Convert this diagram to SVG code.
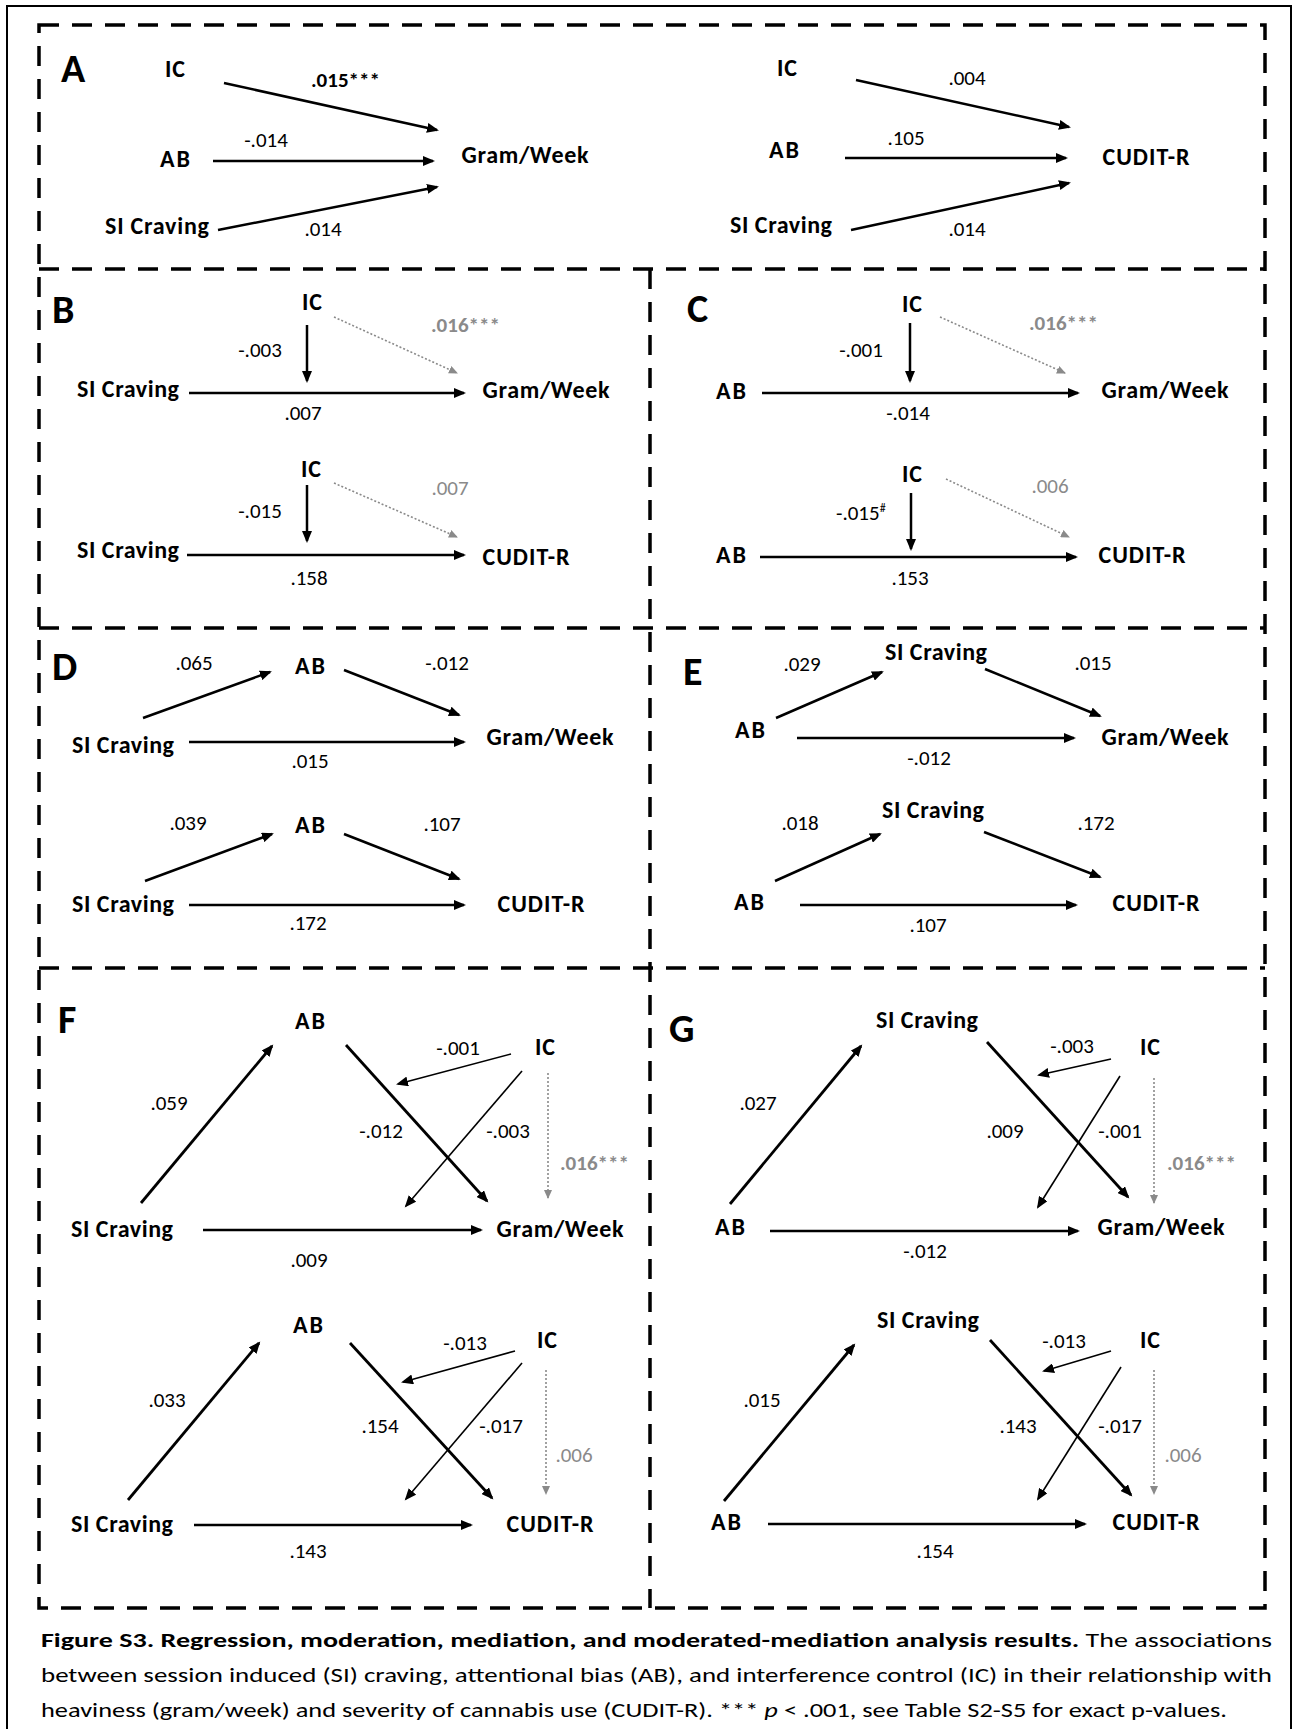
<svg xmlns="http://www.w3.org/2000/svg" width="1299" height="1729" viewBox="0 0 1299 1729">
<style>
text{font-family:Carlito,Lato,"Liberation Sans",sans-serif;fill:#000}
.lbl{font-weight:700;font-size:24px;text-anchor:middle}
.num{font-weight:400;font-size:21px;text-anchor:middle}
.numS{font-weight:400;font-size:21px;text-anchor:start}
.b{font-weight:700}
.g{fill:#8a8a8a}
.pl{font-weight:700;font-size:40px}
.cap{font-size:21px}
.ar{stroke:#000;stroke-width:2.5;fill:none;marker-end:url(#ah)}
.tk{stroke-width:2.8}
.tn{stroke-width:1.6}
.dt{stroke:#8a8a8a;stroke-width:1.6;stroke-dasharray:2 2;fill:none;marker-end:url(#ahg)}
.fr{stroke:#000;stroke-width:3.5;fill:none;stroke-dasharray:20 13}
</style>
<defs>
<marker id="ah" markerUnits="userSpaceOnUse" markerWidth="13" markerHeight="10" refX="10" refY="5" orient="auto"><path d="M0,0 L12,5 L0,10 z" fill="#000"/></marker>
<marker id="ahg" markerUnits="userSpaceOnUse" markerWidth="10" markerHeight="8" refX="8" refY="4" orient="auto"><path d="M0,0 L9,4 L0,8 z" fill="#8a8a8a"/></marker>
</defs>
<rect x="0" y="0" width="1299" height="1729" fill="#fff"/>
<rect x="7" y="6" width="1284" height="1740" fill="none" stroke="#000" stroke-width="2"/>
<g id="frames">
<rect class="fr" x="39" y="25" width="1226" height="1583"/>
<line class="fr" x1="39" y1="269" x2="1265" y2="269"/>
<line class="fr" x1="39" y1="628" x2="1265" y2="628"/>
<line class="fr" x1="39" y1="968" x2="1265" y2="968"/>
<line class="fr" x1="650" y1="269" x2="650" y2="1608"/>
</g>
<g id="panel-letters">
<text class="pl" x="61" y="82">A</text>
<text class="pl" x="52" y="323">B</text>
<text class="pl" x="687" y="322">C</text>
<text class="pl" x="52" y="680">D</text>
<text class="pl" x="683" y="685">E</text>
<text class="pl" x="58" y="1033">F</text>
<text class="pl" x="669" y="1042">G</text>
</g>
<g id="connectors">
<line class="ar" x1="224" y1="83" x2="437" y2="130"/>
<line class="ar" x1="213" y1="161" x2="433" y2="161"/>
<line class="ar" x1="218" y1="230" x2="437" y2="187"/>
<line class="ar" x1="856" y1="80" x2="1069" y2="127"/>
<line class="ar" x1="845" y1="158" x2="1066" y2="158"/>
<line class="ar" x1="851" y1="230" x2="1069" y2="183"/>
<line class="ar" x1="307" y1="325" x2="307" y2="381"/>
<line class="dt" x1="334" y1="317" x2="457" y2="373"/>
<line class="ar" x1="189" y1="393" x2="464" y2="393"/>
<line class="ar" x1="307" y1="485" x2="307" y2="541"/>
<line class="dt" x1="334" y1="483" x2="457" y2="537"/>
<line class="ar" x1="187" y1="555" x2="464" y2="555"/>
<line class="ar" x1="910" y1="323" x2="910" y2="381"/>
<line class="dt" x1="940" y1="317" x2="1065" y2="373"/>
<line class="ar" x1="762" y1="393" x2="1078" y2="393"/>
<line class="ar" x1="911" y1="493" x2="911" y2="549"/>
<line class="dt" x1="946" y1="479" x2="1069" y2="537"/>
<line class="ar" x1="760" y1="557" x2="1076" y2="557"/>
<line class="ar" x1="143" y1="718" x2="270" y2="672"/>
<line class="ar" x1="344" y1="670" x2="459" y2="715"/>
<line class="ar" x1="189" y1="742" x2="464" y2="742"/>
<line class="ar" x1="145" y1="881" x2="272" y2="834"/>
<line class="ar" x1="344" y1="834" x2="459" y2="879"/>
<line class="ar" x1="189" y1="905" x2="464" y2="905"/>
<line class="ar" x1="776" y1="718" x2="882" y2="672"/>
<line class="ar" x1="985" y1="669" x2="1100" y2="716"/>
<line class="ar" x1="797" y1="738" x2="1074" y2="738"/>
<line class="ar" x1="775" y1="881" x2="880" y2="834"/>
<line class="ar" x1="984" y1="832" x2="1100" y2="877"/>
<line class="ar" x1="800" y1="905" x2="1076" y2="905"/>
<line class="ar tk" x1="141" y1="1203" x2="272" y2="1046"/>
<line class="ar tk" x1="346" y1="1045" x2="487" y2="1201"/>
<line class="ar tn" x1="511" y1="1054" x2="398" y2="1084"/>
<line class="ar tn" x1="522" y1="1071" x2="406" y2="1206"/>
<line class="dt" x1="548" y1="1073" x2="548" y2="1198"/>
<line class="ar" x1="203" y1="1230" x2="481" y2="1230"/>
<line class="ar tk" x1="730" y1="1204" x2="861" y2="1046"/>
<line class="ar tk" x1="987" y1="1042" x2="1128" y2="1197"/>
<line class="ar tn" x1="1111" y1="1059" x2="1039" y2="1075"/>
<line class="ar tn" x1="1120" y1="1076" x2="1038" y2="1207"/>
<line class="dt" x1="1154" y1="1078" x2="1154" y2="1203"/>
<line class="ar" x1="770" y1="1231" x2="1078" y2="1231"/>
<line class="ar tk" x1="128" y1="1500" x2="259" y2="1343"/>
<line class="ar tk" x1="350" y1="1343" x2="492" y2="1498"/>
<line class="ar tn" x1="515" y1="1351" x2="403" y2="1382"/>
<line class="ar tn" x1="522" y1="1363" x2="406" y2="1499"/>
<line class="dt" x1="546" y1="1370" x2="546" y2="1494"/>
<line class="ar" x1="194" y1="1525" x2="471" y2="1525"/>
<line class="ar tk" x1="724" y1="1501" x2="854" y2="1345"/>
<line class="ar tk" x1="990" y1="1340" x2="1131" y2="1495"/>
<line class="ar tn" x1="1111" y1="1351" x2="1044" y2="1371"/>
<line class="ar tn" x1="1121" y1="1367" x2="1038" y2="1499"/>
<line class="dt" x1="1154" y1="1370" x2="1154" y2="1494"/>
<line class="ar" x1="768" y1="1524" x2="1085" y2="1524"/>
</g>
<g id="connector-labels">
<text class="numS b" x="311" y="87">.015***</text>
<text class="num" x="266" y="147">-.014</text>
<text class="num" x="323" y="236">.014</text>
<text class="num" x="967" y="85">.004</text>
<text class="num" x="906" y="145">.105</text>
<text class="num" x="967" y="236">.014</text>
<text class="num" x="260" y="357">-.003</text>
<text class="numS b g" x="431" y="332">.016***</text>
<text class="num" x="303" y="420">.007</text>
<text class="num" x="260" y="518">-.015</text>
<text class="num g" x="450" y="495">.007</text>
<text class="num" x="309" y="585">.158</text>
<text class="num" x="861" y="357">-.001</text>
<text class="numS b g" x="1029" y="330">.016***</text>
<text class="num" x="908" y="420">-.014</text>
<text class="numS" x="836" y="520">-.015<tspan font-size="12" dy="-8">#</tspan></text>
<text class="num g" x="1050" y="493">.006</text>
<text class="num" x="910" y="585">.153</text>
<text class="num" x="194" y="670">.065</text>
<text class="num" x="447" y="670">-.012</text>
<text class="num" x="310" y="768">.015</text>
<text class="num" x="188" y="830">.039</text>
<text class="num" x="442" y="831">.107</text>
<text class="num" x="308" y="930">.172</text>
<text class="num" x="802" y="671">.029</text>
<text class="num" x="1093" y="670">.015</text>
<text class="num" x="929" y="765">-.012</text>
<text class="num" x="800" y="830">.018</text>
<text class="num" x="1096" y="830">.172</text>
<text class="num" x="928" y="932">.107</text>
<text class="num" x="169" y="1110">.059</text>
<text class="num" x="458" y="1055">-.001</text>
<text class="num" x="381" y="1138">-.012</text>
<text class="num" x="508" y="1138">-.003</text>
<text class="numS b g" x="560" y="1170">.016***</text>
<text class="num" x="309" y="1267">.009</text>
<text class="num" x="758" y="1110">.027</text>
<text class="num" x="1072" y="1053">-.003</text>
<text class="num" x="1005" y="1138">.009</text>
<text class="num" x="1120" y="1138">-.001</text>
<text class="numS b g" x="1167" y="1170">.016***</text>
<text class="num" x="925" y="1258">-.012</text>
<text class="num" x="167" y="1407">.033</text>
<text class="num" x="465" y="1350">-.013</text>
<text class="num" x="380" y="1433">.154</text>
<text class="num" x="501" y="1433">-.017</text>
<text class="num g" x="574" y="1462">.006</text>
<text class="num" x="308" y="1558">.143</text>
<text class="num" x="762" y="1407">.015</text>
<text class="num" x="1064" y="1348">-.013</text>
<text class="num" x="1018" y="1433">.143</text>
<text class="num" x="1120" y="1433">-.017</text>
<text class="num g" x="1183" y="1462">.006</text>
<text class="num" x="935" y="1558">.154</text>
</g>
<g id="nodes">
<g id="A1-IC"><text class="lbl" x="175" y="77" textLength="20">IC</text></g>
<g id="A1-AB"><text class="lbl" x="175" y="167" textLength="30">AB</text></g>
<g id="A1-SI"><text class="lbl" x="157" y="234" textLength="104">SI Craving</text></g>
<g id="A1-GW"><text class="lbl" x="525" y="163" textLength="127">Gram/Week</text></g>
<g id="A2-IC"><text class="lbl" x="787" y="76" textLength="20">IC</text></g>
<g id="A2-AB"><text class="lbl" x="784" y="158" textLength="30">AB</text></g>
<g id="A2-SI"><text class="lbl" x="781" y="233" textLength="102">SI Craving</text></g>
<g id="A2-CU"><text class="lbl" x="1146" y="165" textLength="87">CUDIT-R</text></g>
<g id="B1-IC"><text class="lbl" x="312" y="310" textLength="20">IC</text></g>
<g id="B1-SI"><text class="lbl" x="128" y="397" textLength="102">SI Craving</text></g>
<g id="B1-GW"><text class="lbl" x="546" y="398" textLength="127">Gram/Week</text></g>
<g id="B2-IC"><text class="lbl" x="311" y="477" textLength="20">IC</text></g>
<g id="B2-SI"><text class="lbl" x="128" y="558" textLength="102">SI Craving</text></g>
<g id="B2-CU"><text class="lbl" x="526" y="565" textLength="87">CUDIT-R</text></g>
<g id="C1-IC"><text class="lbl" x="912" y="312" textLength="20">IC</text></g>
<g id="C1-AB"><text class="lbl" x="731" y="399" textLength="30">AB</text></g>
<g id="C1-GW"><text class="lbl" x="1165" y="398" textLength="127">Gram/Week</text></g>
<g id="C2-IC"><text class="lbl" x="912" y="482" textLength="20">IC</text></g>
<g id="C2-AB"><text class="lbl" x="731" y="563" textLength="30">AB</text></g>
<g id="C2-CU"><text class="lbl" x="1142" y="563" textLength="87">CUDIT-R</text></g>
<g id="D1-AB"><text class="lbl" x="310" y="674" textLength="30">AB</text></g>
<g id="D1-SI"><text class="lbl" x="123" y="753" textLength="102">SI Craving</text></g>
<g id="D1-GW"><text class="lbl" x="550" y="745" textLength="127">Gram/Week</text></g>
<g id="D2-AB"><text class="lbl" x="310" y="833" textLength="30">AB</text></g>
<g id="D2-SI"><text class="lbl" x="123" y="912" textLength="102">SI Craving</text></g>
<g id="D2-CU"><text class="lbl" x="541" y="912" textLength="87">CUDIT-R</text></g>
<g id="E1-SI"><text class="lbl" x="936" y="660" textLength="102">SI Craving</text></g>
<g id="E1-AB"><text class="lbl" x="750" y="738" textLength="30">AB</text></g>
<g id="E1-GW"><text class="lbl" x="1165" y="745" textLength="127">Gram/Week</text></g>
<g id="E2-SI"><text class="lbl" x="933" y="818" textLength="102">SI Craving</text></g>
<g id="E2-AB"><text class="lbl" x="749" y="910" textLength="30">AB</text></g>
<g id="E2-CU"><text class="lbl" x="1156" y="911" textLength="87">CUDIT-R</text></g>
<g id="F1-AB"><text class="lbl" x="310" y="1029" textLength="30">AB</text></g>
<g id="F1-IC"><text class="lbl" x="545" y="1055" textLength="20">IC</text></g>
<g id="F1-SI"><text class="lbl" x="122" y="1237" textLength="102">SI Craving</text></g>
<g id="F1-GW"><text class="lbl" x="560" y="1237" textLength="127">Gram/Week</text></g>
<g id="G1-SI"><text class="lbl" x="927" y="1028" textLength="102">SI Craving</text></g>
<g id="G1-IC"><text class="lbl" x="1150" y="1055" textLength="20">IC</text></g>
<g id="G1-AB"><text class="lbl" x="730" y="1235" textLength="30">AB</text></g>
<g id="G1-GW"><text class="lbl" x="1161" y="1235" textLength="127">Gram/Week</text></g>
<g id="F2-AB"><text class="lbl" x="308" y="1333" textLength="30">AB</text></g>
<g id="F2-IC"><text class="lbl" x="547" y="1348" textLength="20">IC</text></g>
<g id="F2-SI"><text class="lbl" x="122" y="1532" textLength="102">SI Craving</text></g>
<g id="F2-CU"><text class="lbl" x="550" y="1532" textLength="87">CUDIT-R</text></g>
<g id="G2-SI"><text class="lbl" x="928" y="1328" textLength="102">SI Craving</text></g>
<g id="G2-IC"><text class="lbl" x="1150" y="1348" textLength="20">IC</text></g>
<g id="G2-AB"><text class="lbl" x="726" y="1530" textLength="30">AB</text></g>
<g id="G2-CU"><text class="lbl" x="1156" y="1530" textLength="87">CUDIT-R</text></g>
</g>
<g id="caption">
<text class="cap" x="41" y="1647" textLength="1231" lengthAdjust="spacingAndGlyphs"><tspan font-weight="700">Figure S3. Regression, moderation, mediation, and moderated-mediation analysis results.</tspan> The associations</text>
<text class="cap" x="41" y="1682" textLength="1231" lengthAdjust="spacingAndGlyphs">between session induced (SI) craving, attentional bias (AB), and interference control (IC) in their relationship with</text>
<text class="cap" x="41" y="1717" textLength="1186" lengthAdjust="spacingAndGlyphs">heaviness (gram/week) and severity of cannabis use (CUDIT-R). *** <tspan font-style="italic">p</tspan> &lt; .001, see Table S2-S5 for exact p-values.</text>
</g>
</svg>
